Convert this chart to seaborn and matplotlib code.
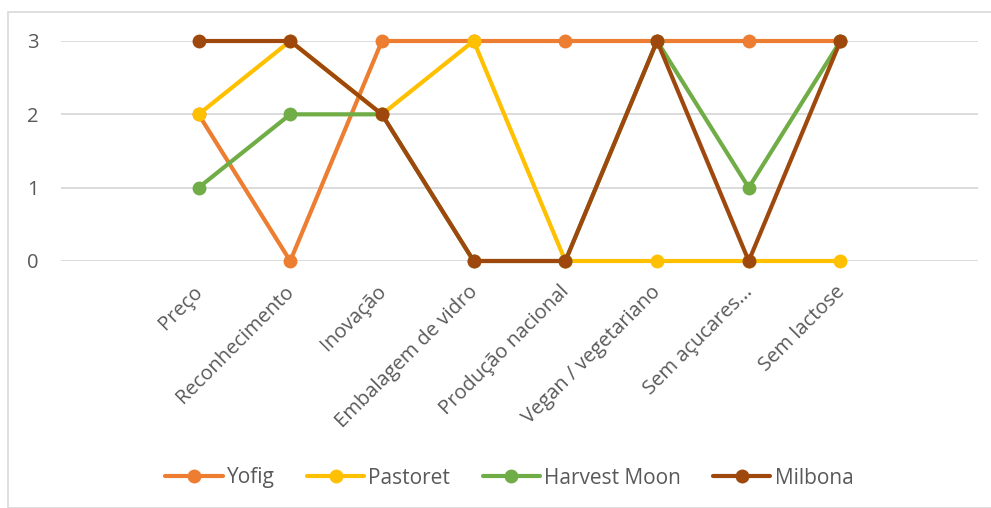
import pandas as pd
import matplotlib
matplotlib.use("Agg")
import matplotlib.pyplot as plt
import seaborn as sns
from matplotlib.patches import Rectangle
from matplotlib.transforms import ScaledTranslation

# Data
categories = ["Preço", "Reconhecimento", "Inovação", "Embalagem de vidro",
              "Produção nacional", "Vegan / vegetariano", "Sem açucares...", "Sem lactose"]
yofig = [2, 0, 3, 3, 3, 3, 3, 3]
pastoret = [2, 3, 2, 3, 0, 0, 0, 0]
harvest_moon = [1, 2, 2, 0, 0, 3, 1, 3]
milbona = [3, 3, 2, 0, 0, 3, 0, 3]
series_names = ["Yofig", "Pastoret", "Harvest Moon", "Milbona"]
colors = ["#ED7D31", "#FFC000", "#70AD47", "#9E480E"]

rows = []
for name, vals in zip(series_names, [yofig, pastoret, harvest_moon, milbona]):
    for i, v in enumerate(vals):
        rows.append({"pos": i, "score": v, "brand": name})
df = pd.DataFrame(rows)

sns.set_style("white")
plt.rcParams["font.family"] = ["Open Sans", "DejaVu Sans"]

fig = plt.figure(figsize=(9.91, 5.08), dpi=100)
ax = fig.add_axes([61 / 991, (508 - 261) / 508, 917 / 991, 220 / 508])

sns.lineplot(data=df, x="pos", y="score", hue="brand", hue_order=series_names,
             palette=dict(zip(series_names, colors)), marker="o", markersize=10,
             markeredgewidth=0, linewidth=3, ax=ax)
for line in ax.lines:
    line.set_clip_on(False)

ax.set_xlim(-1.5, 8.5)
ax.set_ylim(0, 3)
ax.set_yticks([0, 1, 2, 3])
ax.set_xticks(range(len(categories)))
ax.set_xticklabels(categories, rotation=45, ha="right", rotation_mode="anchor")
ax.tick_params(axis="both", length=0, labelsize=14.5, labelcolor="#595959")
ax.tick_params(axis="y", pad=16)
ax.tick_params(axis="x", pad=15)
# nudge the rotated labels a little to the left
shift = ScaledTranslation(-0.06, 0, fig.dpi_scale_trans)
for lbl in ax.get_xticklabels():
    lbl.set_transform(lbl.get_transform() + shift)
ax.set_xlabel("")
ax.set_ylabel("")
ax.grid(axis="y", color="#D9D9D9", linewidth=1.3)
ax.set_axisbelow(True)
for s in ax.spines.values():
    s.set_visible(False)

handles, labels = ax.get_legend_handles_labels()
ax.legend_.remove()
fig.legend(handles, labels, loc="center", bbox_to_anchor=(0.514, 1 - 478 / 508), ncol=4,
           frameon=False, fontsize=15, labelcolor="#595959", handlelength=2.75,
           handletextpad=0.2, columnspacing=1.55)

fig.patches.append(Rectangle((8 / 991, 0.0), 1.0, 1 - 12 / 508, transform=fig.transFigure,
                             fill=False, edgecolor="#D9D9D9", linewidth=1.2))

fig.savefig("out.png", dpi=100)
